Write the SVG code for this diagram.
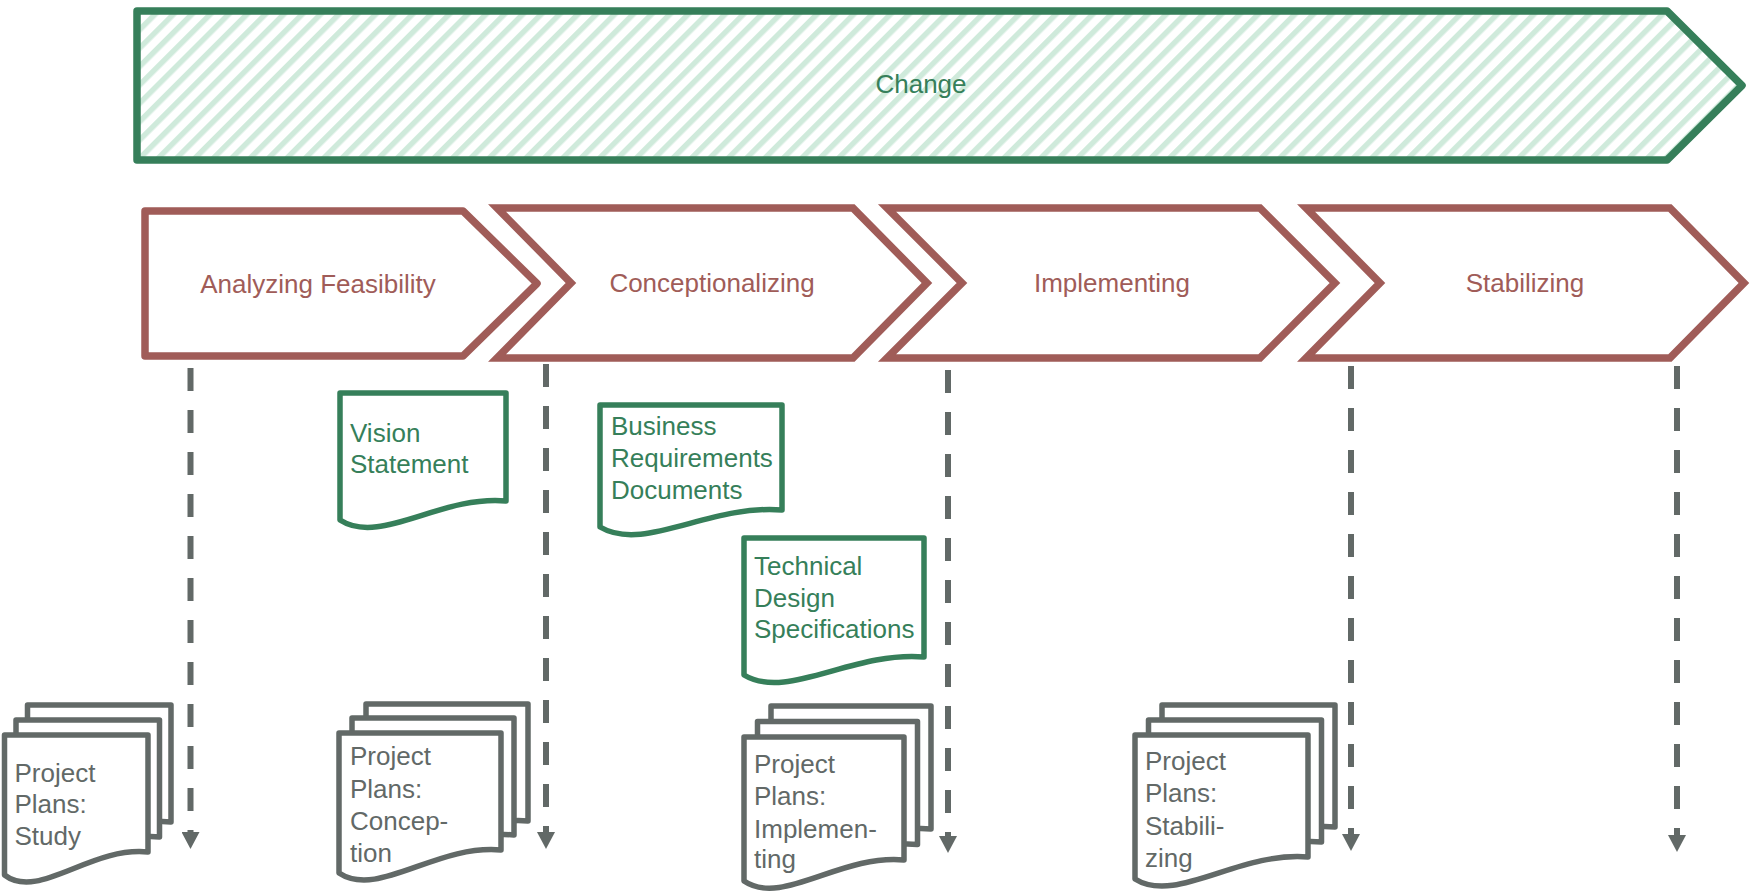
<svg xmlns="http://www.w3.org/2000/svg" width="1750" height="891" viewBox="0 0 1750 891">
<defs>
<pattern id="hatch" patternUnits="userSpaceOnUse" width="13" height="13" patternTransform="rotate(45)">
<rect width="13" height="13" fill="#ffffff"/>
<rect width="5.5" height="13" fill="#cfeadb"/>
</pattern>
<marker id="arr" markerUnits="userSpaceOnUse" markerWidth="17" markerHeight="18" refX="0" refY="9" orient="auto" viewBox="0 0 17 18">
<path d="M0,0 L17,9 L0,18 Z" fill="#626967"/>
</marker>
</defs>
<style>
text{font-family:"Liberation Sans",Arial,sans-serif;font-size:26px}
.chev{fill:#ffffff;stroke:#a05c58;stroke-width:7.5;stroke-linejoin:miter}
.chevt{fill:#a05c58;text-anchor:middle}
.gdoc{fill:#ffffff;stroke:#367f5a;stroke-width:5.5;stroke-linejoin:round}
.gt{fill:#367f5a}
.pdoc{fill:#ffffff;stroke:#626967;stroke-width:5.5;stroke-linejoin:round}
.pt{fill:#626967}
.dash{fill:none;stroke:#626967;stroke-width:6;stroke-dasharray:23 19}
</style>
<rect width="1750" height="891" fill="#ffffff"/>

<g id="change">
<path d="M137,11 L1667,11 L1742,85.5 L1667,160 L137,160 Z" fill="url(#hatch)" stroke="#367f5a" stroke-width="7.5" stroke-linejoin="round"/>
<text x="921" y="93" text-anchor="middle" fill="#367f5a">Change</text>
</g>

<g id="phase-analyzing">
<path class="chev" style="stroke-linejoin:round" d="M145,211 L463,211 L537,283.5 L463,356 L145,356 Z"/>
<text class="chevt" x="318" y="293">Analyzing Feasibility</text>
</g>
<g id="phase-conceptionalizing">
<path class="chev" d="M497,208 L853,208 L927,283 L853,358 L497,358 L571,283 Z"/>
<text class="chevt" x="712" y="292">Conceptionalizing</text>
</g>
<g id="phase-implementing">
<path class="chev" d="M887,208 L1260,208 L1335,283 L1260,358 L887,358 L962,283 Z"/>
<text class="chevt" x="1112" y="292">Implementing</text>
</g>
<g id="phase-stabilizing">
<path class="chev" d="M1306,208 L1670,208 L1744,283 L1670,358 L1306,358 L1380,283 Z"/>
<text class="chevt" x="1525" y="292">Stabilizing</text>
</g>

<g id="connectors">
<line class="dash" x1="190.5" y1="368" x2="190.5" y2="832" marker-end="url(#arr)"/>
<line class="dash" x1="546" y1="364" x2="546" y2="832" marker-end="url(#arr)"/>
<line class="dash" x1="948" y1="370" x2="948" y2="836" marker-end="url(#arr)"/>
<line class="dash" x1="1351" y1="366" x2="1351" y2="834" marker-end="url(#arr)"/>
<line class="dash" x1="1677" y1="366" x2="1677" y2="835" marker-end="url(#arr)"/>
</g>

<g id="doc-vision">
<path class="gdoc" d="M340,393 H506 V501 C440,495 380,546 340,520 Z"/>
<text class="gt" x="350" y="442">Vision</text>
<text class="gt" x="350" y="473">Statement</text>
</g>
<g id="doc-business">
<path class="gdoc" d="M600,405 H782 V510 C709,504 644,553 600,527 Z"/>
<text class="gt" x="611" y="435">Business</text>
<text class="gt" x="611" y="467">Requirements</text>
<text class="gt" x="611" y="499">Documents</text>
</g>
<g id="doc-technical">
<path class="gdoc" d="M744,538 H924 V657 C852,651 787,701 744,675 Z"/>
<text class="gt" x="754" y="575">Technical</text>
<text class="gt" x="754" y="607">Design</text>
<text class="gt" x="754" y="638">Specifications</text>
</g>

<g id="plans-study">
<path class="pdoc" transform="translate(23,-30)" d="M4.5,735 H148 V852 C90.5,846 38.5,901 4.5,875 Z"/>
<path class="pdoc" transform="translate(11.5,-15)" d="M4.5,735 H148 V852 C90.5,846 38.5,901 4.5,875 Z"/>
<path class="pdoc" d="M4.5,735 H148 V852 C90.5,846 38.5,901 4.5,875 Z"/>
<text class="pt" x="14.5" y="782">Project</text>
<text class="pt" x="14.5" y="813">Plans:</text>
<text class="pt" x="14.5" y="845">Study</text>
</g>
<g id="plans-conception">
<path class="pdoc" transform="translate(27,-29)" d="M339,733 H501 V850 C436,844 378,899 339,873 Z"/>
<path class="pdoc" transform="translate(13,-15)" d="M339,733 H501 V850 C436,844 378,899 339,873 Z"/>
<path class="pdoc" d="M339,733 H501 V850 C436,844 378,899 339,873 Z"/>
<text class="pt" x="350" y="765">Project</text>
<text class="pt" x="350" y="798">Plans:</text>
<text class="pt" x="350" y="830">Concep-</text>
<text class="pt" x="350" y="862">tion</text>
</g>
<g id="plans-implementing">
<path class="pdoc" transform="translate(27,-31)" d="M744,737 H904 V860 C840,854 782,907 744,881 Z"/>
<path class="pdoc" transform="translate(13.5,-15.5)" d="M744,737 H904 V860 C840,854 782,907 744,881 Z"/>
<path class="pdoc" d="M744,737 H904 V860 C840,854 782,907 744,881 Z"/>
<text class="pt" x="754" y="773">Project</text>
<text class="pt" x="754" y="805">Plans:</text>
<text class="pt" x="754" y="838">Implemen-</text>
<text class="pt" x="754" y="868">ting</text>
</g>
<g id="plans-stabilizing">
<path class="pdoc" transform="translate(27,-30)" d="M1135,735 H1308 V857 C1239,851 1176,905 1135,879 Z"/>
<path class="pdoc" transform="translate(13.5,-15)" d="M1135,735 H1308 V857 C1239,851 1176,905 1135,879 Z"/>
<path class="pdoc" d="M1135,735 H1308 V857 C1239,851 1176,905 1135,879 Z"/>
<text class="pt" x="1145" y="770">Project</text>
<text class="pt" x="1145" y="802">Plans:</text>
<text class="pt" x="1145" y="835">Stabili-</text>
<text class="pt" x="1145" y="867">zing</text>
</g>
</svg>
